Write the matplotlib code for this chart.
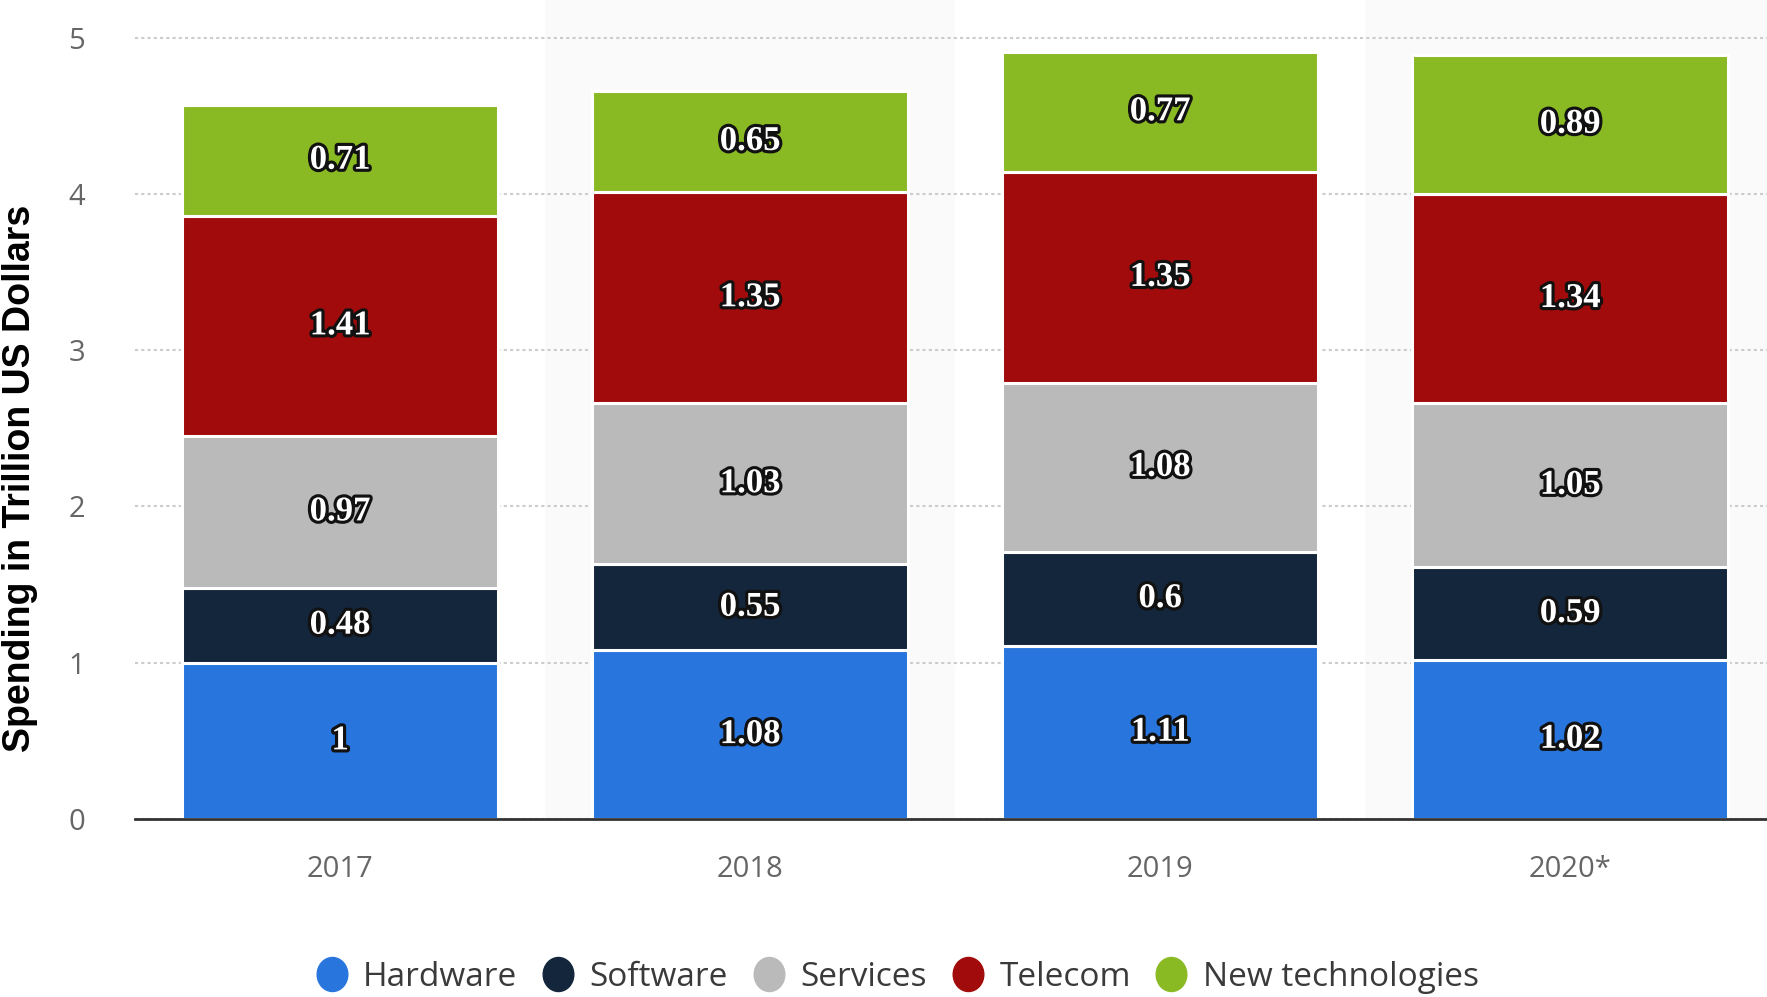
import matplotlib
matplotlib.use("Agg")
import matplotlib.pyplot as plt
import matplotlib.patheffects as pe
from matplotlib.path import Path
from matplotlib.lines import Line2D
import numpy as np

years = ["2017", "2018", "2019", "2020*"]
segments = ["Hardware", "Software", "Services", "Telecom", "New technologies"]
hardware = [1.00, 1.08, 1.11, 1.02]
software = [0.48, 0.55, 0.60, 0.59]
services = [0.97, 1.03, 1.08, 1.05]
telecom = [1.41, 1.35, 1.35, 1.34]
new_tech = [0.71, 0.65, 0.77, 0.89]
labels = {
    "Hardware": ["1", "1.08", "1.11", "1.02"],
    "Software": ["0.48", "0.55", "0.6", "0.59"],
    "Services": ["0.97", "1.03", "1.08", "1.05"],
    "Telecom": ["1.41", "1.35", "1.35", "1.34"],
    "New technologies": ["0.71", "0.65", "0.77", "0.89"],
}
yticks = [0, 1, 2, 3, 4, 5]
colors = ["#2876dd", "#13263b", "#bababa", "#a20b0b", "#8aba23"]
series = [hardware, software, services, telecom, new_tech]

fig = plt.figure(figsize=(17.67, 9.97), dpi=100)
ax = fig.add_axes([135 / 1767, 1 - 819 / 997, 1 - 135 / 1767, 819 / 997])

x = np.arange(len(years))
ax.set_xlim(-0.5, 3.48)
ax.set_ylim(0, 5.24)

# alternating background bands
for i in x:
    if i % 2 == 1:
        ax.axvspan(i - 0.5, i + 0.5, color="#fafafa", zorder=0, lw=0)

ax.set_yticks(yticks)
ax.yaxis.grid(True, linestyle=(0, (1.5, 1.5)), color="#cccccc", linewidth=1.5, zorder=1)
ax.set_axisbelow(True)

bottom = np.zeros(len(years))
for name, vals, c in zip(segments, series, colors):
    vals = np.array(vals)
    ax.bar(x, vals, 0.77, bottom=bottom, color=c, edgecolor="white",
           linewidth=2.2, zorder=2)
    for xi, b, v, lab in zip(x, bottom, vals, labels[name]):
        ax.text(xi, b + v / 2, lab, ha="center", va="center", color="white",
                fontsize=25, fontweight="bold", family="Liberation Serif",
                zorder=5,
                path_effects=[pe.withStroke(linewidth=4.5, foreground="#111111")])
    bottom += vals

for s in ["top", "right", "left"]:
    ax.spines[s].set_visible(False)
ax.spines["bottom"].set_color("#333333")
ax.spines["bottom"].set_linewidth(2)
ax.spines["bottom"].set_zorder(6)

ax.set_xticks(x)
ax.set_xticklabels(years)
ax.tick_params(axis="both", length=0, labelsize=21, labelcolor="#666666")
ax.tick_params(axis="x", pad=26)
ax.tick_params(axis="y", pad=36)
for t in ax.get_xticklabels() + ax.get_yticklabels():
    t.set_family("Open Sans")

fig.text(20 / 1767, 1 - 478 / 997, "Spending in Trillion US Dollars", rotation=90,
         ha="center", va="center", fontsize=27, fontweight="bold",
         family="Liberation Sans", color="black")

# slightly tall ellipse marker for legend
circ = Path.unit_circle()
ell = Path(circ.vertices * np.array([0.9, 1.0]), circ.codes)
handles = [Line2D([], [], marker=ell, linestyle="none", markersize=24.5,
                  markerfacecolor=c, markeredgecolor=c) for c in colors]
leg = fig.legend(handles, segments, loc="center", ncol=5, frameon=False,
                 bbox_to_anchor=(897 / 1767, 1 - 977 / 997),
                 handlelength=1.0, handletextpad=0.45, columnspacing=0.72,
                 prop={"family": "Open Sans", "size": 24})
for t in leg.get_texts():
    t.set_color("#3a3a3a")

fig.savefig("out.png", dpi=100)
